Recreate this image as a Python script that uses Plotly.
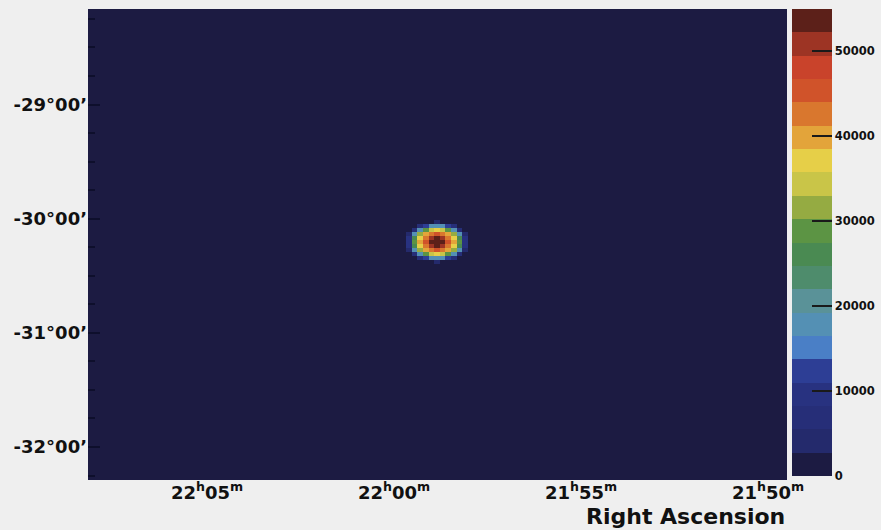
import numpy as np
import plotly.graph_objects as go

# Source position (PKS 2155-304), RA in hours, Dec in degrees
source_ra_h = 21.9808
source_dec = -30.2

# Bin widths of the count map
ra_bin_h = 0.0025      # 0.15 min of RA
dec_bin_deg = 0.035

# Counts in the bins around the source (rows: Dec, cols: RA)
spot_counts = [
    [0,     0,     0,   100,   900,  2200,  2750,  2200,   900,   100,     0,     0,    0],
    [0,     0,   900,  5500, 11200, 16700, 19000, 16700, 11200,  5500,   900,     0,    0],
    [0,   900,  7800, 19200, 28500, 34500, 36000, 34500, 28500, 19200,  7800,   900,    0],
    [250, 5100, 18100, 32000, 39100, 42500, 44000, 42500, 39100, 32000, 18100,  5100,  250],
    [800, 9400, 25700, 37900, 43900, 49500, 52400, 49500, 43900, 37900, 25700,  9400,  800],
    [1000, 10900, 27900, 39300, 46300, 52500, 55000, 52500, 46300, 39300, 27900, 10900, 1000],
    [800, 9400, 25700, 37900, 43900, 49500, 52400, 49500, 43900, 37900, 25700,  9400,  800],
    [250, 5100, 18100, 32000, 39100, 42500, 44000, 42500, 39100, 32000, 18100,  5100,  250],
    [0,   900,  7800, 19200, 28500, 34500, 36000, 34500, 28500, 19200,  7800,   900,    0],
    [0,     0,   900,  5500, 11200, 16700, 19000, 16700, 11200,  5500,   900,     0,    0],
    [0,     0,     0,   100,   900,  2200,  2750,  2200,   900,   100,     0,     0,    0],
]

# Axis ticks
ra_tick_vals = [22 + 5 / 60, 22.0, 21 + 55 / 60, 21 + 50 / 60]
ra_tick_text = ["22<sup>h</sup>05<sup>m</sup>", "22<sup>h</sup>00<sup>m</sup>",
                "21<sup>h</sup>55<sup>m</sup>", "21<sup>h</sup>50<sup>m</sup>"]
dec_tick_vals = [-29, -30, -31, -32]
dec_tick_text = ["-29°00’", "-30°00’", "-31°00’", "-32°00’"]
cbar_tick_vals = [0, 10000, 20000, 30000, 40000, 50000]

# 20-step palette, low to high
palette = [
    "#1c1b42", "#242a6c", "#262e78", "#283280", "#2d3e95",
    "#4a7fc6", "#5490b4", "#5a9298", "#4e8c6c", "#4a8a52",
    "#5c9444", "#95ab42", "#c9c548", "#e6cf48", "#e3a43a",
    "#d9772e", "#d0532a", "#c9432b", "#9d3424", "#5c2019",
]
z_max = 55000

# Full map grid
n_ra_half, n_dec_half = 63, 60
ra_centers = source_ra_h + np.arange(-n_ra_half, n_ra_half + 1) * ra_bin_h
dec_centers = source_dec + np.arange(-n_dec_half, n_dec_half) * dec_bin_deg
z = np.zeros((len(dec_centers), len(ra_centers)))
spot = np.array(spot_counts, dtype=float)
r0 = n_dec_half - spot.shape[0] // 2
c0 = n_ra_half - spot.shape[1] // 2
z[r0:r0 + spot.shape[0], c0:c0 + spot.shape[1]] = spot

# Discrete colorscale
n = len(palette)
colorscale = []
for i, c in enumerate(palette):
    colorscale.append([i / n, c])
    colorscale.append([(i + 1) / n, c])

fig = go.Figure()
fig.add_trace(go.Heatmap(
    x=ra_centers, y=dec_centers, z=z,
    zmin=0, zmax=z_max, colorscale=colorscale, zsmooth=False,
    colorbar=dict(
        x=(792 - 88) / 699, xanchor="left", xpad=0,
        y=1, yanchor="top", len=467 / 471, lenmode="fraction",
        thickness=40, thicknessmode="pixels",
        outlinewidth=0, ypad=0,
        tickvals=cbar_tick_vals,
        ticktext=[f"<b>{v}</b>" for v in cbar_tick_vals],
        ticks="inside", ticklen=20, tickwidth=2, tickcolor="#1a1a1a",
        tickfont=dict(family="DejaVu Sans", size=11.5, color="#111111"),
    ),
    hoverinfo="skip",
))

fig.update_xaxes(
    range=[22.1364, 21.8249],
    tickvals=ra_tick_vals,
    ticktext=[f"<b>{t}</b>" for t in ra_tick_text],
    tickfont=dict(family="DejaVu Sans", size=18, color="#111111"),
    ticks="", showgrid=False, zeroline=False, showline=False,
)
fig.update_yaxes(
    range=[-32.289, -28.1635],
    tickvals=dec_tick_vals,
    ticktext=[f"<b>{t}</b>" for t in dec_tick_text],
    tickfont=dict(family="DejaVu Sans", size=18, color="#111111"),
    ticks="inside", ticklen=12, tickwidth=2, tickcolor="#0e0f2c",
    minor=dict(dtick=0.25, ticks="inside", ticklen=7, tickwidth=1.5, tickcolor="#0e0f2c"),
    showgrid=False, zeroline=False, showline=False,
)

fig.add_annotation(
    text="<b>Right Ascension</b>", xref="paper", yref="paper",
    x=1, y=-(516 - 480) / 471, xanchor="right", yanchor="middle",
    showarrow=False, font=dict(family="DejaVu Sans", size=22, color="#111111"),
)

fig.update_layout(
    width=881, height=530,
    margin=dict(l=88, r=94, t=9, b=50, autoexpand=False),
    paper_bgcolor="#efefef", plot_bgcolor="#1c1b42",
    showlegend=False,
)

fig.write_html("out.html")
